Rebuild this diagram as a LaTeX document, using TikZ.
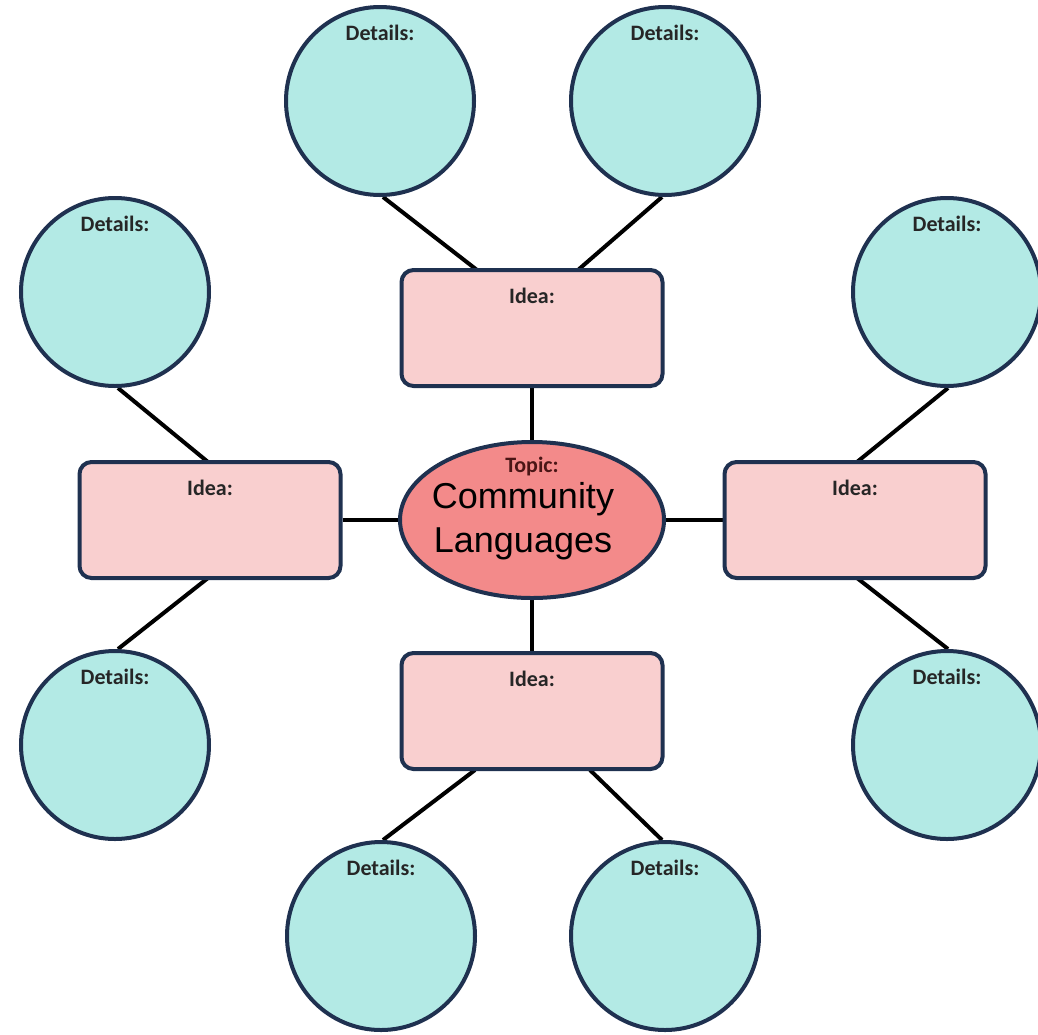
\documentclass[tikz,border=0pt]{standalone}
\usepackage{fontspec}
\setmainfont{Liberation Sans}
\newfontfamily\calib{Carlito}
\usetikzlibrary{shapes.geometric,calc,backgrounds}
\definecolor{navy}{HTML}{1F3150}
\definecolor{teal}{HTML}{B3EAE5}
\definecolor{pinkbox}{HTML}{F9CFCF}
\definecolor{salmon}{HTML}{F38A8A}
\definecolor{maroon}{HTML}{4A1515}
\tikzset{
  detail/.style={circle,draw=navy,line width=4pt,fill=teal,minimum size=188pt,inner sep=0pt},
  idea/.style={rectangle,rounded corners=12pt,draw=navy,line width=4pt,fill=pinkbox,minimum width=261pt,minimum height=116pt,inner sep=0pt},
  topic/.style={ellipse,draw=navy,line width=4pt,fill=salmon,minimum width=264pt,minimum height=156pt,inner sep=0pt},
  lbl/.style={font=\calib\bfseries\fontsize{22}{26}\selectfont,text=black!85,inner sep=0pt},
  conn/.style={line width=4pt,black}
}
\begin{document}
\begin{tikzpicture}[x=1pt,y=-1pt]
\useasboundingbox (0,0) rectangle (1038,1034);
% shapes
\node[detail] (c1) at (380,101) {};
\node[detail] (c2) at (665,101) {};
\node[detail] (c3) at (115,292) {};
\node[detail] (c4) at (947,292) {};
\node[detail] (c5) at (115,745) {};
\node[detail] (c6) at (947,745) {};
\node[detail] (c7) at (381,936) {};
\node[detail] (c8) at (665,936) {};
\node[idea] (tb) at (532,328) {};
\node[idea] (lb) at (210,520) {};
\node[idea] (rb) at (855,520) {};
\node[idea] (bb) at (532,711) {};
\node[topic] (tp) at (532,520) {};
% connector end points
\coordinate (tbl) at (477,270);
\coordinate (tbr) at (578,270);
\coordinate (lbt) at (208,462);
\coordinate (lbb) at (208,578);
\coordinate (rbt) at (857,462);
\coordinate (rbb) at (857,578);
\coordinate (bbl) at (475,770);
\coordinate (bbr) at (590,770);
\begin{scope}[on background layer]
\draw[conn] (tb) -- (tp);
\draw[conn] (lb) -- (tp);
\draw[conn] (rb) -- (tp);
\draw[conn] (bb) -- (tp);
\draw[conn] (tbl) -- ($(c1.south)+(3,0)$);
\draw[conn] (tbr) -- ($(c2.south)+(-3,0)$);
\draw[conn] (lbt) -- ($(c3.south)+(3,0)$);
\draw[conn] (lbb) -- ($(c5.north)+(3,0)$);
\draw[conn] (rbt) -- ($(c4.south)+(1,0)$);
\draw[conn] (rbb) -- ($(c6.north)+(1,0)$);
\draw[conn] (bbl) -- ($(c7.north)+(2,0)$);
\draw[conn] (bbr) -- ($(c8.north)+(-3,0)$);
\end{scope}
% labels
\foreach \c in {c1,c2,c3,c4,c5,c6,c7,c8}{
  \node[lbl] (\c t) at ($(\c.north)+(0,28)$) {Details:};
}
\foreach \b in {tb,lb,rb,bb}{
  \node[lbl] (\b t) at ($(\b.north)+(0,28)$) {Idea:};
}
\node[lbl,text=maroon] (tpt) at ($(tp.north)+(0,27)$) {Topic:};
\node[font=\fontsize{36}{44}\selectfont,align=center,inner sep=0pt] (tptxt) at (523,521) {Community\\Languages};
\end{tikzpicture}
\end{document}
